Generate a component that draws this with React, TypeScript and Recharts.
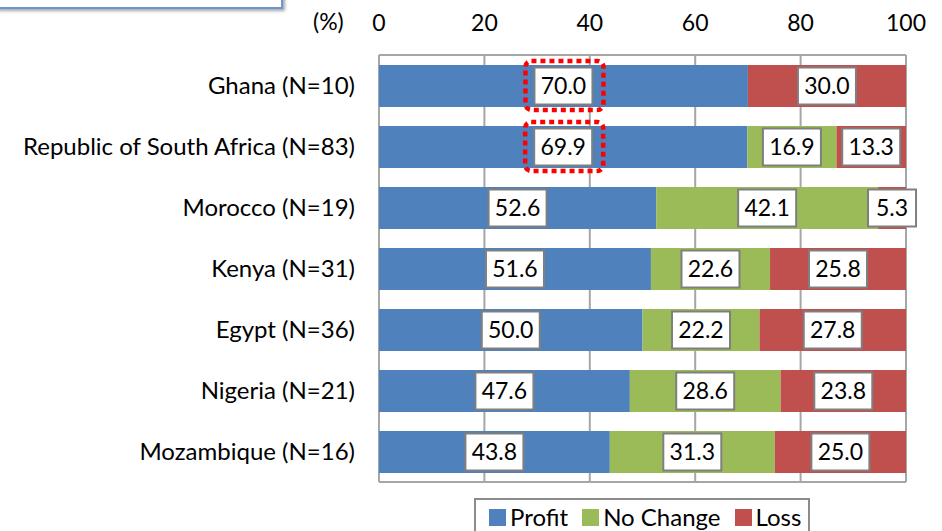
import { Bar, BarChart, CartesianGrid, LabelList, XAxis, YAxis } from 'recharts';

// ── data ─────────────────────────────────────────────────────────────
const countries = [
  'Ghana (N=10)',
  'Republic of South Africa (N=83)',
  'Morocco (N=19)',
  'Kenya (N=31)',
  'Egypt (N=36)',
  'Nigeria (N=21)',
  'Mozambique (N=16)',
];
const profit = [70.0, 69.9, 52.6, 51.6, 50.0, 47.6, 43.8];
const noChange = [0, 16.9, 42.1, 22.6, 22.2, 28.6, 31.3];
const loss = [30.0, 13.3, 5.3, 25.8, 27.8, 23.8, 25.0];
const xTicks = [0, 20, 40, 60, 80, 100];
const highlighted = [0, 1]; // rows whose Profit label gets the red dotted frame

const FONT = 'Lato, "Open Sans", sans-serif';
const BLUE = '#4F81BD';
const GREEN = '#9BBB59';
const RED = '#C0504D';
const GRID = '#A6A6A6';

const data = countries.map((name, i) => ({
  name,
  profit: profit[i],
  noChange: noChange[i],
  loss: loss[i],
}));

// white boxed value label centred in a segment
function boxLabel(withFrame: boolean) {
  return function BoxLabel(props: any) {
    const { x, y, width, height, value, index } = props;
    if (!value) return null;
    const cx = Number(x) + Number(width) / 2;
    const cy = Number(y) + Number(height) / 2;
    const txt = Number(value).toFixed(1);
    const w = txt.length === 3 ? 48 : 58;
    const h = 37;
    return (
      <g>
        {withFrame && highlighted.includes(index) && (
          <rect
            x={cx - 38}
            y={cy - 25}
            width={78}
            height={49}
            rx={6}
            fill="none"
            stroke="#FF0000"
            strokeWidth={4.5}
            strokeDasharray="5 4"
          />
        )}
        <rect
          x={cx - w / 2}
          y={cy - h / 2}
          width={w}
          height={h}
          fill="#fff"
          stroke="#7F7F7F"
          strokeWidth={2}
        />
        <text
          x={cx}
          y={cy + 8}
          textAnchor="middle"
          fontFamily={FONT}
          fontSize={23}
          fill="#000"
        >
          {txt}
        </text>
      </g>
    );
  };
}

function CountryTick(props: any) {
  const { y, payload } = props;
  return (
    <text x={355} y={y + 8} textAnchor="end" fontFamily={FONT} fontSize={24} fill="#000">
      {payload.value}
    </text>
  );
}

function PctTick(props: any) {
  const { x, payload } = props;
  return (
    <text x={x} y={31} textAnchor="middle" fontFamily={FONT} fontSize={23} fill="#000">
      {payload.value}
    </text>
  );
}

const legendItems = [
  { label: 'Profit', color: BLUE },
  { label: 'No Change', color: GREEN },
  { label: 'Loss', color: RED },
];

export default function App() {
  return (
    <div
      style={{
        position: 'absolute',
        left: 0,
        top: 0,
        width: 942,
        height: 531,
        overflow: 'hidden',
        background: '#fff',
        fontFamily: FONT,
      }}
    >
      {/* partly cropped title box at the top left */}
      <div
        style={{
          position: 'absolute',
          left: -4,
          top: -40,
          width: 283,
          height: 45,
          border: '2px solid #6A96D2',
          background: '#fff',
          boxShadow: '2px 2px 3px rgba(0,0,0,0.35)',
        }}
      />
      <div
        style={{
          position: 'absolute',
          left: 313,
          top: 7,
          fontSize: 23,
          color: '#000',
        }}
      >
        (%)
      </div>
      <BarChart
        width={942}
        height={531}
        data={data}
        layout="vertical"
        margin={{ top: 0, right: 0, left: 0, bottom: 49 }}
      >
        <CartesianGrid
          stroke={GRID}
          strokeWidth={2}
          horizontalPoints={[55, 482]}
          fill="#fff"
        />
        <XAxis
          type="number"
          orientation="top"
          domain={[0, 100]}
          ticks={xTicks}
          allowDataOverflow
          height={55}
          axisLine={false}
          tickLine={false}
          tick={<PctTick />}
        />
        <YAxis
          type="category"
          dataKey="name"
          width={379}
          axisLine={false}
          tickLine={false}
          tick={<CountryTick />}
        />
        <YAxis
          yAxisId="edge"
          orientation="right"
          type="number"
          domain={[0, 7]}
          ticks={[0, 1, 2, 3, 4, 5, 6, 7]}
          width={36}
          axisLine={false}
          tickLine={{ stroke: GRID, strokeWidth: 2 }}
          tickSize={7}
          tick={false}
        />
        <Bar dataKey="profit" stackId="a" fill={BLUE} barSize={42} isAnimationActive={false}>
          <LabelList dataKey="profit" content={boxLabel(true)} />
        </Bar>
        <Bar dataKey="noChange" stackId="a" fill={GREEN} barSize={42} isAnimationActive={false}>
          <LabelList dataKey="noChange" content={boxLabel(false)} />
        </Bar>
        <Bar dataKey="loss" stackId="a" fill={RED} barSize={42} isAnimationActive={false}>
          <LabelList dataKey="loss" content={boxLabel(false)} />
        </Bar>
      </BarChart>
      {/* legend box, cut off by the bottom edge */}
      <div
        style={{
          position: 'absolute',
          left: 474,
          top: 498,
          width: 336,
          height: 40,
          border: '2px solid #8C8C8C',
          boxSizing: 'border-box',
          display: 'flex',
          alignItems: 'flex-start',
          paddingTop: 3,
          paddingLeft: 13,
          background: '#fff',
        }}
      >
        {legendItems.map((it, i) => (
          <div
            key={it.label}
            style={{
              display: 'flex',
              alignItems: 'center',
              marginLeft: i === 0 ? 0 : 14,
              fontSize: 24,
              color: '#000',
              lineHeight: '28px',
            }}
          >
            <span
              style={{
                display: 'inline-block',
                width: 17,
                height: 17,
                background: it.color,
                marginRight: 4,
              }}
            />
            {it.label}
          </div>
        ))}
      </div>
    </div>
  );
}
